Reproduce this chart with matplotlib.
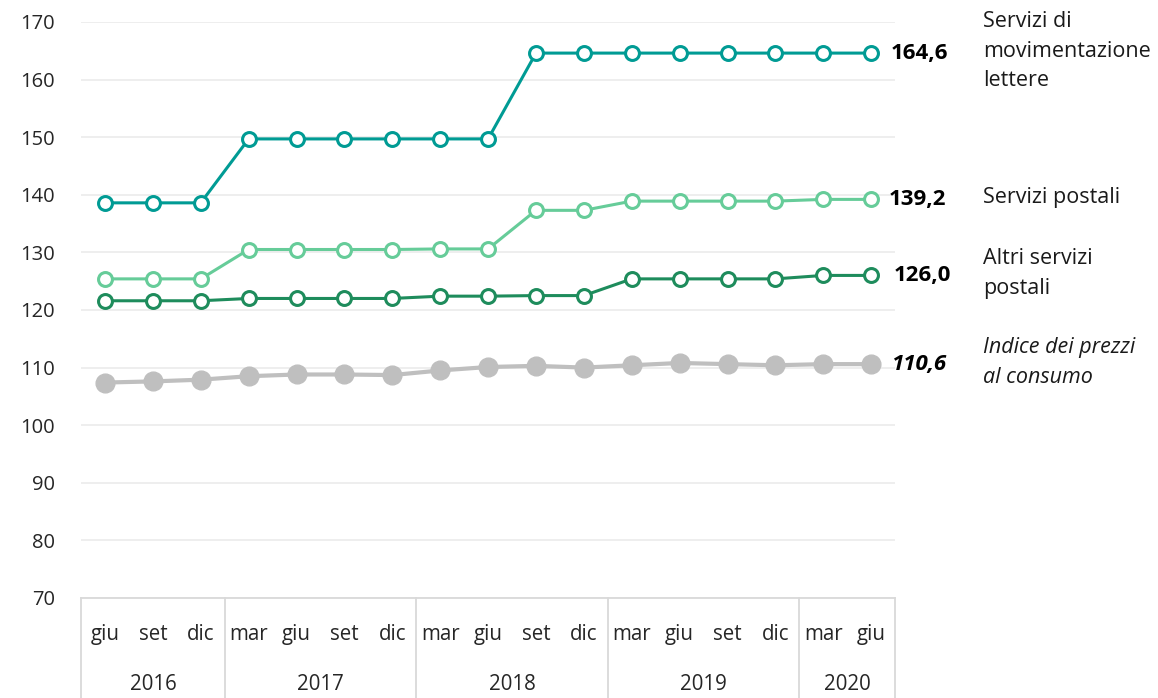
import matplotlib.pyplot as plt

plt.rcParams['font.family'] = ['Open Sans', 'DejaVu Sans']

# quarterly index values (2015 = 100)
months = ['giu', 'set', 'dic',
          'mar', 'giu', 'set', 'dic',
          'mar', 'giu', 'set', 'dic',
          'mar', 'giu', 'set', 'dic',
          'mar', 'giu']
years = ['2016', '2017', '2018', '2019', '2020']
year_len = [3, 4, 4, 4, 2]

lettere = [138.6, 138.6, 138.6, 149.7, 149.7, 149.7, 149.7, 149.7, 149.7,
           164.6, 164.6, 164.6, 164.6, 164.6, 164.6, 164.6, 164.6]
postali = [125.4, 125.4, 125.4, 130.5, 130.5, 130.5, 130.5, 130.6, 130.6,
           137.3, 137.3, 138.9, 138.9, 138.9, 138.9, 139.2, 139.2]
altri = [121.6, 121.6, 121.6, 122.0, 122.0, 122.0, 122.0, 122.4, 122.4,
         122.5, 122.5, 125.4, 125.4, 125.4, 125.4, 126.0, 126.0]
cpi = [107.4, 107.6, 107.9, 108.5, 108.8, 108.8, 108.7, 109.5, 110.1,
       110.3, 110.0, 110.4, 110.8, 110.6, 110.4, 110.6, 110.6]

names = ['Servizi di\nmovimentazione\nlettere', 'Servizi postali',
         'Altri servizi\npostali', 'Indice dei prezzi\nal consumo']
colors = ['#009B94', '#66CC99', '#1E8C5C', '#BFBFBF']

fig = plt.figure(figsize=(11.58, 6.98), dpi=100)
ax = fig.add_axes([0.07, 0.1433, 0.703, 0.8252])

x = list(range(len(months)))
series = [lettere, postali, altri, cpi]

for i, (vals, col) in enumerate(zip(series, colors)):
    if i < 3:
        ax.plot(x, vals, color=col, lw=2.2, marker='o', ms=10,
                mfc='white', mec=col, mew=2.2, zorder=3)
    else:
        ax.plot(x, vals, color=col, lw=3, marker='o', ms=13.5,
                mfc=col, mec=col, zorder=2)

# end-of-line values and series names
val_dx = [19, 17, 22, 20]
for i, (vals, name) in enumerate(zip(series, names)):
    style = 'italic' if i == 3 else 'normal'
    lab = f'{vals[-1]:.1f}'.replace('.', ',')
    ax.annotate(lab, xy=(x[-1], vals[-1]), xytext=(val_dx[i], 0),
                textcoords='offset pixels', ha='left', va='center',
                fontsize=16, fontweight='bold', style=style,
                color='black', annotation_clip=False)
    ax.annotate(name, xy=(x[-1], vals[-1]), xytext=(112, 2),
                textcoords='offset pixels', ha='left', va='center',
                fontsize=15.5, style=style, color='#1a1a1a',
                linespacing=1.55, annotation_clip=False)

ax.set_ylim(70, 170)
ax.set_yticks(range(70, 171, 10))
ax.set_xlim(-0.5, len(months) - 0.5)
ax.set_xticks([])
ax.grid(axis='y', color='#EDEDED', lw=1.3)
ax.set_axisbelow(True)
for s in ['top', 'right', 'left']:
    ax.spines[s].set_visible(False)
ax.spines['bottom'].set_color('#D9D9D9')
ax.spines['bottom'].set_linewidth(1.3)
ax.tick_params(axis='y', length=0, pad=19, labelsize=14.5, labelcolor='#262626')

# two-level category axis: months, then years with separators
tr = ax.get_xaxis_transform()
for xi, m in zip(x, months):
    ax.text(xi, -0.063, m, transform=tr, ha='center', va='center',
            fontsize=14.8, color='#262626')
start = 0
bounds = [-0.5]
for yr, n in zip(years, year_len):
    mid = start + (n - 1) / 2
    ax.text(mid, -0.151, yr, transform=tr, ha='center', va='center',
            fontsize=14.8, color='#262626')
    start += n
    bounds.append(start - 0.5)
for b in bounds:
    ax.plot([b, b], [0, -0.18], transform=tr, color='#D9D9D9', lw=1.3,
            clip_on=False)

fig.savefig('out.png', dpi=100)
